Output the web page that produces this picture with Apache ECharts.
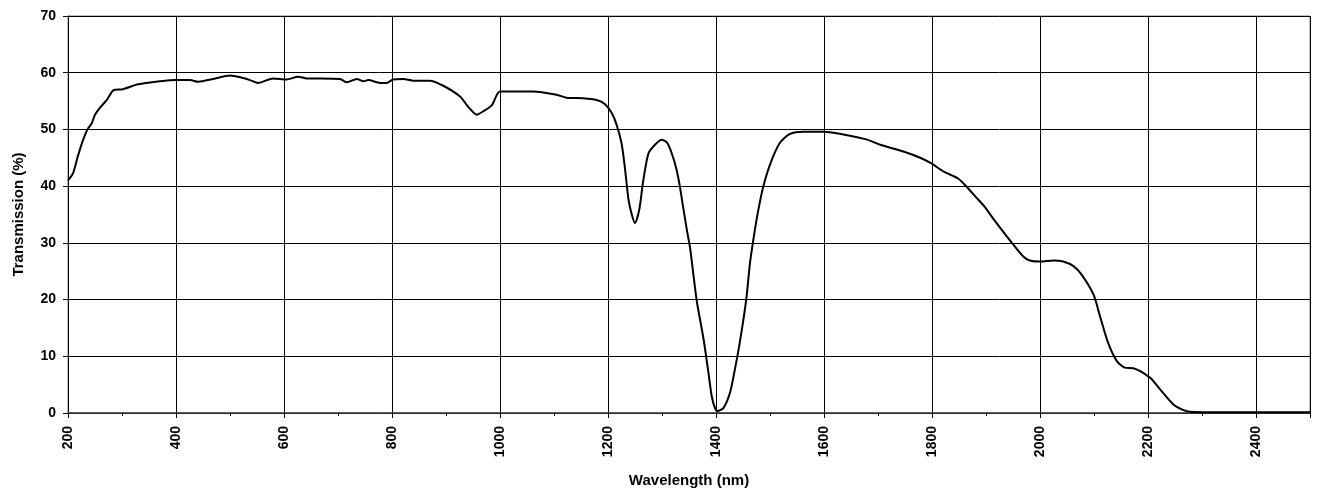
<!DOCTYPE html>
<html>
<head>
<meta charset="utf-8">
<script src="https://cdn.jsdelivr.net/npm/echarts@6/dist/echarts.min.js"></script>
<style>
html,body{margin:0;padding:0;background:#fff;}
#chart{width:1317px;height:493px;}
</style>
</head>
<body>
<div id="chart"></div>
<script>
const wavelengths = [200,209,218,227,236,244,250,259,272,284,302,327,345,370,400,426,441,469,500,519,537,552,580,605,626,642,667,704,716,735,747,756,778,790,802,821,839,870,895,926,941,957,969,985,1000,1062,1105,1123,1154,1179,1194,1207,1216,1225,1231,1238,1244,1250,1258,1265,1275,1287,1299,1309,1318,1327,1333,1339,1346,1352,1364,1377,1386,1392,1398,1403,1414,1426,1435,1444,1456,1463,1472,1478,1487,1500,1518,1537,1562,1599,1648,1680,1704,1747,1778,1799,1821,1849,1864,1883,1898,1914,1948,1969,1981,2000,2025,2043,2062,2077,2099,2111,2126,2142,2157,2173,2204,2222,2247,2266,2278,2300,2400,2500];
const transmission = [41,42.2,45.2,47.9,50,51.1,52.6,53.8,55.2,56.9,57.1,57.9,58.2,58.5,58.7,58.7,58.4,58.9,59.5,59.2,58.7,58.2,59.0,58.8,59.3,59.0,59.0,58.9,58.3,58.9,58.5,58.7,58.2,58.2,58.8,58.9,58.6,58.6,57.7,55.8,54.0,52.6,53.2,54.3,56.7,56.7,56.1,55.6,55.5,55.2,54.5,52.9,50.8,47.6,43.5,37.6,35.0,33.5,35.9,40.8,45.8,47.3,48.2,47.7,45.8,42.9,40.0,36.4,32.3,29.1,20.0,13.0,7.1,3.0,0.9,0.35,0.9,3.6,7.7,12.4,20.0,26.5,32.3,35.6,39.7,43.8,47.6,49.2,49.6,49.6,48.9,48.2,47.3,46.1,45.0,44.0,42.6,41.3,39.9,37.9,36.3,34.2,30.0,27.6,26.9,26.7,26.9,26.7,25.9,24.4,20.9,17.1,12.4,9.2,8.0,7.9,6.2,4.2,1.5,0.5,0.2,0.15,0.15,0.15];
const xTitle = 'Wavelength (nm)';
const yTitle = 'Transmission (%)';

const seriesData = wavelengths.map((w, i) => [w, transmission[i]]);
const font = 'Liberation Sans, Arial, sans-serif';

const chart = echarts.init(document.getElementById('chart'), null, {renderer: 'canvas'});
chart.setOption({
  animation: false,
  backgroundColor: '#ffffff',
  grid: {left: 68, right: 7, top: 16, bottom: 79, show: true, borderColor: '#808080', borderWidth: 1, backgroundColor: 'transparent'},
  xAxis: {
    type: 'value', min: 200, max: 2500, interval: 200,
    name: xTitle, nameLocation: 'middle', nameGap: 60,
    nameTextStyle: {fontFamily: font, fontWeight: 'bold', fontSize: 15, color: '#000'},
    axisLine: {show: true, onZero: false, lineStyle: {color: '#404040', width: 1.5}},
    axisTick: {show: true, length: 5, lineStyle: {color: '#000'}},
    minorTick: {show: true, splitNumber: 2, length: 3, lineStyle: {color: '#000'}},
    axisLabel: {rotate: 90, margin: 13, fontFamily: font, fontWeight: 'bold', fontSize: 14, color: '#000',
      formatter: v => (v >= 2500 ? '' : String(v))},
    splitLine: {show: true, lineStyle: {color: '#000', width: 1}}
  },
  yAxis: {
    type: 'value', min: 0, max: 70, interval: 10,
    name: yTitle, nameLocation: 'middle', nameGap: 42, nameRotate: 90,
    nameTextStyle: {fontFamily: font, fontWeight: 'bold', fontSize: 15, color: '#000'},
    axisLine: {show: true, lineStyle: {color: '#000', width: 1}},
    axisTick: {show: true, length: 5, lineStyle: {color: '#000'}},
    axisLabel: {margin: 12, fontFamily: font, fontWeight: 'bold', fontSize: 14, color: '#000'},
    splitLine: {show: true, lineStyle: {color: '#000', width: 1}}
  },
  series: [{
    type: 'line', data: seriesData, showSymbol: false, smooth: 0.25,
    lineStyle: {color: '#000', width: 2}, clip: true
  }]
});
</script>
</body>
</html>
